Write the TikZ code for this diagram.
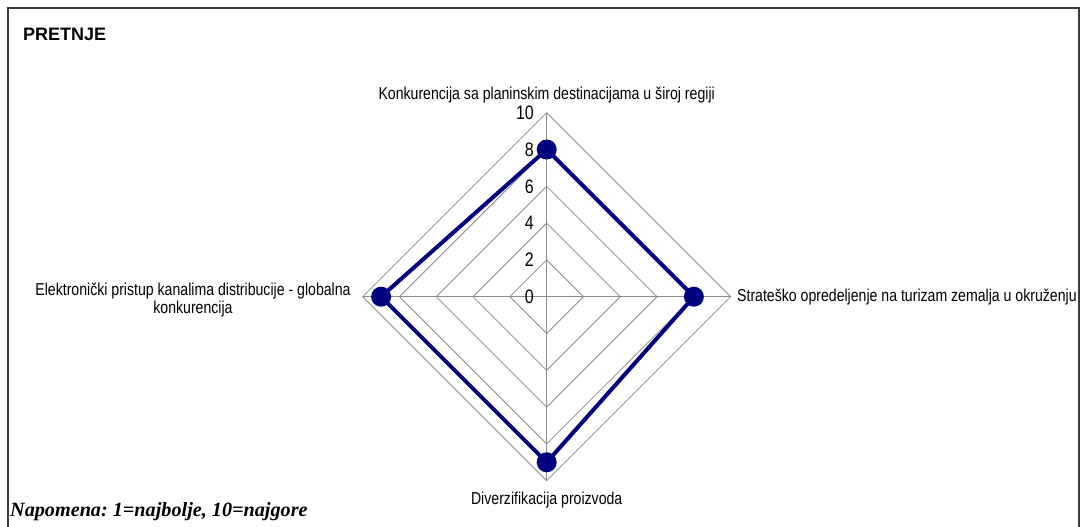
\documentclass[tikz,border=0pt]{standalone}
\usepackage{fontspec}
\setmainfont{Liberation Sans}
\newfontfamily\narrowsans[FakeStretch=0.82]{Liberation Sans}
\newfontfamily\notefont{Liberation Serif}
\definecolor{seriesblue}{RGB}{0,0,128}
\definecolor{gridgray}{RGB}{140,140,140}
\definecolor{framegray}{RGB}{60,60,60}
\frenchspacing
\begin{document}
\begin{tikzpicture}[x=1pt,y=-1pt,
  gridline/.style={draw=gridgray, line width=0.8pt},
  seriesline/.style={draw=seriesblue, line width=4pt, line join=round},
  marker/.style={circle, fill=seriesblue, minimum size=20pt, inner sep=0pt},
  ticklabel/.style={font=\narrowsans\fontsize{19.5}{19}\selectfont, anchor=east, inner sep=0pt},
  catlabel/.style={font=\narrowsans\fontsize{17.2}{17}\selectfont, inner sep=0pt, align=center},
]
\useasboundingbox (0,0) rectangle (1082,527);
\fill[white] (0,0) rectangle (1082,527);
% outer frame (open at the bottom)
\draw[framegray, line width=1.6pt] (8,527) -- (8,8) -- (1079,8) -- (1079,527);

\def\cx{546.7}
\def\cy{296.7}
\def\u{18.4}

% radar grid
\foreach \k in {2,4,6,8,10}{
  \draw[gridline] (\cx,\cy-\k*\u) -- (\cx+\k*\u,\cy) -- (\cx,\cy+\k*\u) -- (\cx-\k*\u,\cy) -- cycle;
}
\coordinate (c) at (\cx,\cy);
\coordinate (aT) at (\cx,\cy-10*\u);
\coordinate (aR) at (\cx+10*\u,\cy);
\coordinate (aB) at (\cx,\cy+10*\u);
\coordinate (aL) at (\cx-10*\u,\cy);
\draw[gridline] (c) -- (aT);
\draw[gridline] (c) -- (aR);
\draw[gridline] (c) -- (aB);
\draw[gridline] (c) -- (aL);

% scale labels
\foreach \k in {0,2,4,6,8,10}{
  \node[ticklabel] (t\k) at (534,\cy-\k*\u) {\k};
}

% series
\coordinate (pT) at (\cx,\cy-8*\u);
\coordinate (pR) at (\cx+8*\u,\cy);
\coordinate (pB) at (\cx,\cy+9*\u);
\coordinate (pL) at (\cx-9*\u,\cy);
\draw[seriesline] (pT) -- (pR) -- (pB) -- (pL) -- cycle;
\node[marker] (mT) at (pT) {};
\node[marker] (mR) at (pR) {};
\node[marker] (mB) at (pB) {};
\node[marker] (mL) at (pL) {};

% category labels
\node[catlabel] (lT) at (\cx,95) {Konkurencija sa planinskim destinacijama u široj regiji};
\node[catlabel, anchor=west] (lR) at (737,297) {Strateško opredeljenje na turizam zemalja u okruženju};
\node[catlabel] (lB) at (\cx,500) {Diverzifikacija proizvoda};
\node[catlabel] (lL) at (193,300) {Elektronički pristup kanalima distribucije - globalna\\[1pt]konkurencija};

% title and note
\node[anchor=west, inner sep=0pt, font=\bfseries\fontsize{18}{18}\selectfont] (title) at (23,34) {PRETNJE};
\node[anchor=west, inner sep=0pt, font=\notefont\bfseries\itshape\fontsize{20.2}{20}\selectfont] (note) at (10,512) {Napomena: 1=najbolje, 10=najgore};
\end{tikzpicture}
\end{document}
